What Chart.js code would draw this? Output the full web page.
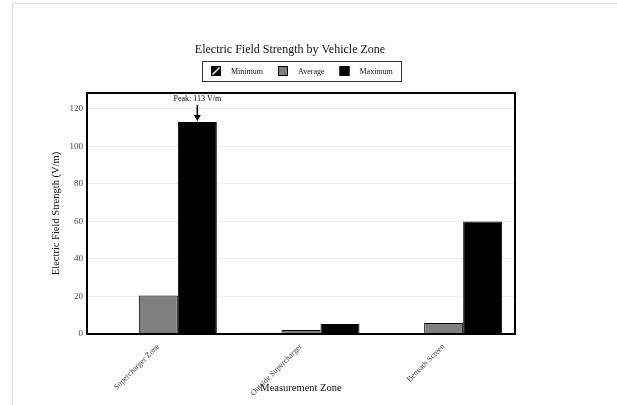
<!DOCTYPE html>
<html>
<head>
<meta charset="utf-8">
<script src="https://cdn.jsdelivr.net/npm/chart.js@4"></script>
<style>
  html, body { margin: 0; padding: 0; background: #fff; }
  #frame { position: absolute; left: 12px; top: 3px; width: 640px; height: 420px;
           border-left: 1px solid #ddd; border-top: 1px solid #ddd; }
  #wrap { position: absolute; left: 0; top: 0; width: 617px; height: 405px; }
</style>
</head>
<body>
<div id="frame"></div>
<div id="wrap"><canvas id="myChart" width="617" height="405"></canvas></div>
<script>
// data
var zones = ["Supercharger Zone", "Outside Supercharger", "Beneath Screen"];
var seriesNames = ["Minimum", "Average", "Maximum"];
var minimum = [0.3, 0.7, 0.2];
var average = [20.5, 2.1, 5.8];
var maximum = [113, 5.3, 60];

var serif = "'Liberation Serif', 'Times New Roman', serif";

// hatch for the Minimum series
function hatch() {
    var c = document.createElement('canvas');
    c.width = 8; c.height = 8;
    var g = c.getContext('2d');
    g.fillStyle = '#000';
    g.fillRect(0, 0, 8, 8);
    g.strokeStyle = '#fff';
    g.lineWidth = 1.5;
    g.beginPath();
    g.moveTo(0, 8); g.lineTo(8, 0);
    g.moveTo(-2, 2); g.lineTo(2, -2);
    g.moveTo(6, 10); g.lineTo(10, 6);
    g.stroke();
    return document.getElementById('myChart').getContext('2d').createPattern(c, 'repeat');
}

function swatch(ctx, i, x, y) {
    if (i == 0) {
        ctx.fillStyle = '#000';
        ctx.fillRect(x, y, 10, 10);
        ctx.strokeStyle = '#fff';
        ctx.lineWidth = 1.5;
        ctx.beginPath();
        ctx.moveTo(x + 1.5, y + 8.5);
        ctx.lineTo(x + 8.5, y + 1.5);
        ctx.stroke();
    } else {
        ctx.fillStyle = i == 1 ? '#808080' : '#000';
        ctx.fillRect(x, y, 10, 10);
        ctx.strokeStyle = '#000';
        ctx.lineWidth = 1;
        ctx.strokeRect(x + 0.5, y + 0.5, 9, 9);
    }
}

var extras = {
    id: 'extras',
    afterDraw: function(chart) {
        var ctx = chart.ctx;
        var a = chart.chartArea;
        var cx = (a.left + a.right) / 2;
        ctx.save();
        // plot frame
        ctx.strokeStyle = '#000';
        ctx.lineWidth = 2;
        ctx.strokeRect(a.left, a.top, a.right - a.left, a.bottom - a.top);
        // title
        ctx.fillStyle = '#111';
        ctx.font = '12px ' + serif;
        ctx.textAlign = 'center';
        ctx.textBaseline = 'middle';
        ctx.fillText('Electric Field Strength by Vehicle Zone', cx - 11, a.top - 43);
        // legend
        ctx.font = '8px ' + serif;
        var widths = seriesNames.map(function(n) { return ctx.measureText(n).width; });
        var total = 9 + 8 + 20 * 3 + 15 * 2;
        widths.forEach(function(w) { total += w; });
        var lx = Math.round(cx - total / 2);
        var ly = a.top - 32;
        ctx.lineWidth = 1;
        ctx.strokeStyle = '#333';
        ctx.strokeRect(lx + 0.5, ly + 0.5, Math.round(total), 20);
        var x = lx + 9;
        ctx.textAlign = 'left';
        seriesNames.forEach(function(n, i) {
            swatch(ctx, i, x, ly + 5);
            ctx.fillStyle = '#111';
            ctx.fillText(n, x + 20, ly + 10.5);
            x += 20 + widths[i] + 15;
        });
        // x axis title
        ctx.fillStyle = '#111';
        ctx.font = '10.5px ' + serif;
        ctx.textAlign = 'center';
        ctx.fillText('Measurement Zone', cx, 388);
        // peak annotation
        var bar = chart.getDatasetMeta(2).data[0];
        var bx = bar.x, by = bar.y;
        ctx.font = '8px ' + serif;
        ctx.fillStyle = '#000';
        ctx.fillText('Peak: ' + maximum[0] + ' V/m', bx, by - 23);
        ctx.strokeStyle = '#000';
        ctx.lineWidth = 1.5;
        ctx.beginPath();
        ctx.moveTo(bx, by - 17);
        ctx.lineTo(bx, by - 5);
        ctx.stroke();
        ctx.beginPath();
        ctx.moveTo(bx - 3.5, by - 7);
        ctx.lineTo(bx + 3.5, by - 7);
        ctx.lineTo(bx, by - 1);
        ctx.closePath();
        ctx.fill();
        ctx.restore();
    }
};

const chart = new Chart("myChart", {
    type: "bar",
    data: {
        labels: zones,
        datasets: [
            {
            label: seriesNames[0],
            data: minimum,
            backgroundColor: hatch(),
            borderColor: "#000",
            borderWidth: 1
            },
            {
            label: seriesNames[1],
            data: average,
            backgroundColor: "#808080",
            borderColor: "#000",
            borderWidth: 1
            },
            {
            label: seriesNames[2],
            data: maximum,
            backgroundColor: "#000",
            borderColor: "#000",
            borderWidth: 1
            }
        ]
    },
    options: {
        responsive: false,
        animation: false,
        devicePixelRatio: 1,
        layout: { padding: { left: 50, right: 102, top: 93, bottom: 0 } },
        datasets: { bar: { categoryPercentage: 0.82, barPercentage: 1.0 } },
        plugins: {
            title: { display: false },
            legend: { display: false },
            tooltip: { enabled: false }
        },
        scales: {
            x: {
                grid: { display: false },
                border: { display: false },
                afterFit: function(s) { s.height = 71; },
                ticks: {
                    color: "#444",
                    padding: 0,
                    font: { family: serif, size: 8 },
                    maxRotation: 45,
                    minRotation: 45
                }
            },
            y: {
                min: 0,
                max: 128.5,
                border: { display: false },
                grid: { color: "#eee", drawTicks: false },
                afterFit: function(s) { s.width = 37; },
                ticks: {
                    stepSize: 20,
                    includeBounds: false,
                    color: "#444",
                    padding: 4,
                    font: { family: serif, size: 9 }
                },
                title: {
                    display: true,
                    text: "Electric Field Strength (V/m)",
                    color: "#111",
                    padding: 0,
                    font: { family: serif, size: 10.5 }
                }
            }
        }
    },
    plugins: [extras]
});
</script>
</body>
</html>
